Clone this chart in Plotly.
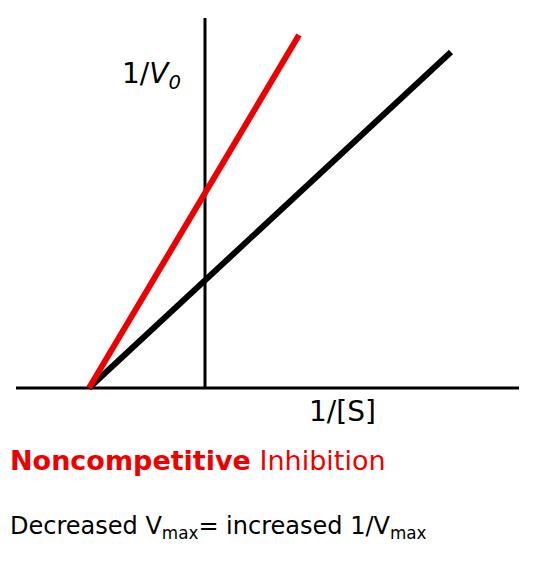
import plotly.graph_objects as go

# Lineweaver-Burk lines (1/[S] vs 1/V0), sketch units
x_intercept = -1.16
black_x = [x_intercept, 2.46]
black_y = [0.0, 3.36]
red_x = [x_intercept, 0.94]
red_y = [0.0, 3.53]

fig = go.Figure()
# axes
fig.add_trace(go.Scatter(x=[-1.89, 3.14], y=[0, 0], mode='lines',
                         line=dict(color='black', width=3), hoverinfo='none'))
fig.add_trace(go.Scatter(x=[0, 0], y=[0, 3.70], mode='lines',
                         line=dict(color='black', width=3), hoverinfo='none'))
fig.add_trace(go.Scatter(x=black_x, y=black_y, mode='lines',
                         line=dict(color='black', width=6), hoverinfo='none'))
fig.add_trace(go.Scatter(x=red_x, y=red_y, mode='lines',
                         line=dict(color='#ee0000', width=6), hoverinfo='none'))

font = "DejaVu Sans, Verdana, sans-serif"
anns = [
    dict(x=-0.54, y=3.13, text="1/<i>V<sub>0</sub></i>", size=28),
    dict(x=1.37, y=-0.23, text="1/[S]", size=28),
]
for a in anns:
    fig.add_annotation(x=a['x'], y=a['y'], text=a['text'], showarrow=False,
                       font=dict(family=font, size=a['size'], color='black'))
fig.add_annotation(x=0.0, y=0.177, xref='paper', yref='paper', xanchor='left',
                   text="<b>Noncompetitive</b> Inhibition", showarrow=False,
                   font=dict(family=font, size=27, color='#ee0000'))
fig.add_annotation(x=0.0, y=0.06, xref='paper', yref='paper', xanchor='left',
                   text="Decreased V<sub>max</sub>= increased 1/V<sub>max</sub>",
                   showarrow=False, font=dict(family=font, size=24, color='black'))

fig.update_layout(width=545, height=571, showlegend=False,
                  margin=dict(l=0, r=0, t=0, b=0),
                  plot_bgcolor='white', paper_bgcolor='white',
                  xaxis=dict(range=[-1.97, 3.48], visible=False),
                  yaxis=dict(range=[-1.91, 3.80], visible=False))
fig.write_html("out.html")
